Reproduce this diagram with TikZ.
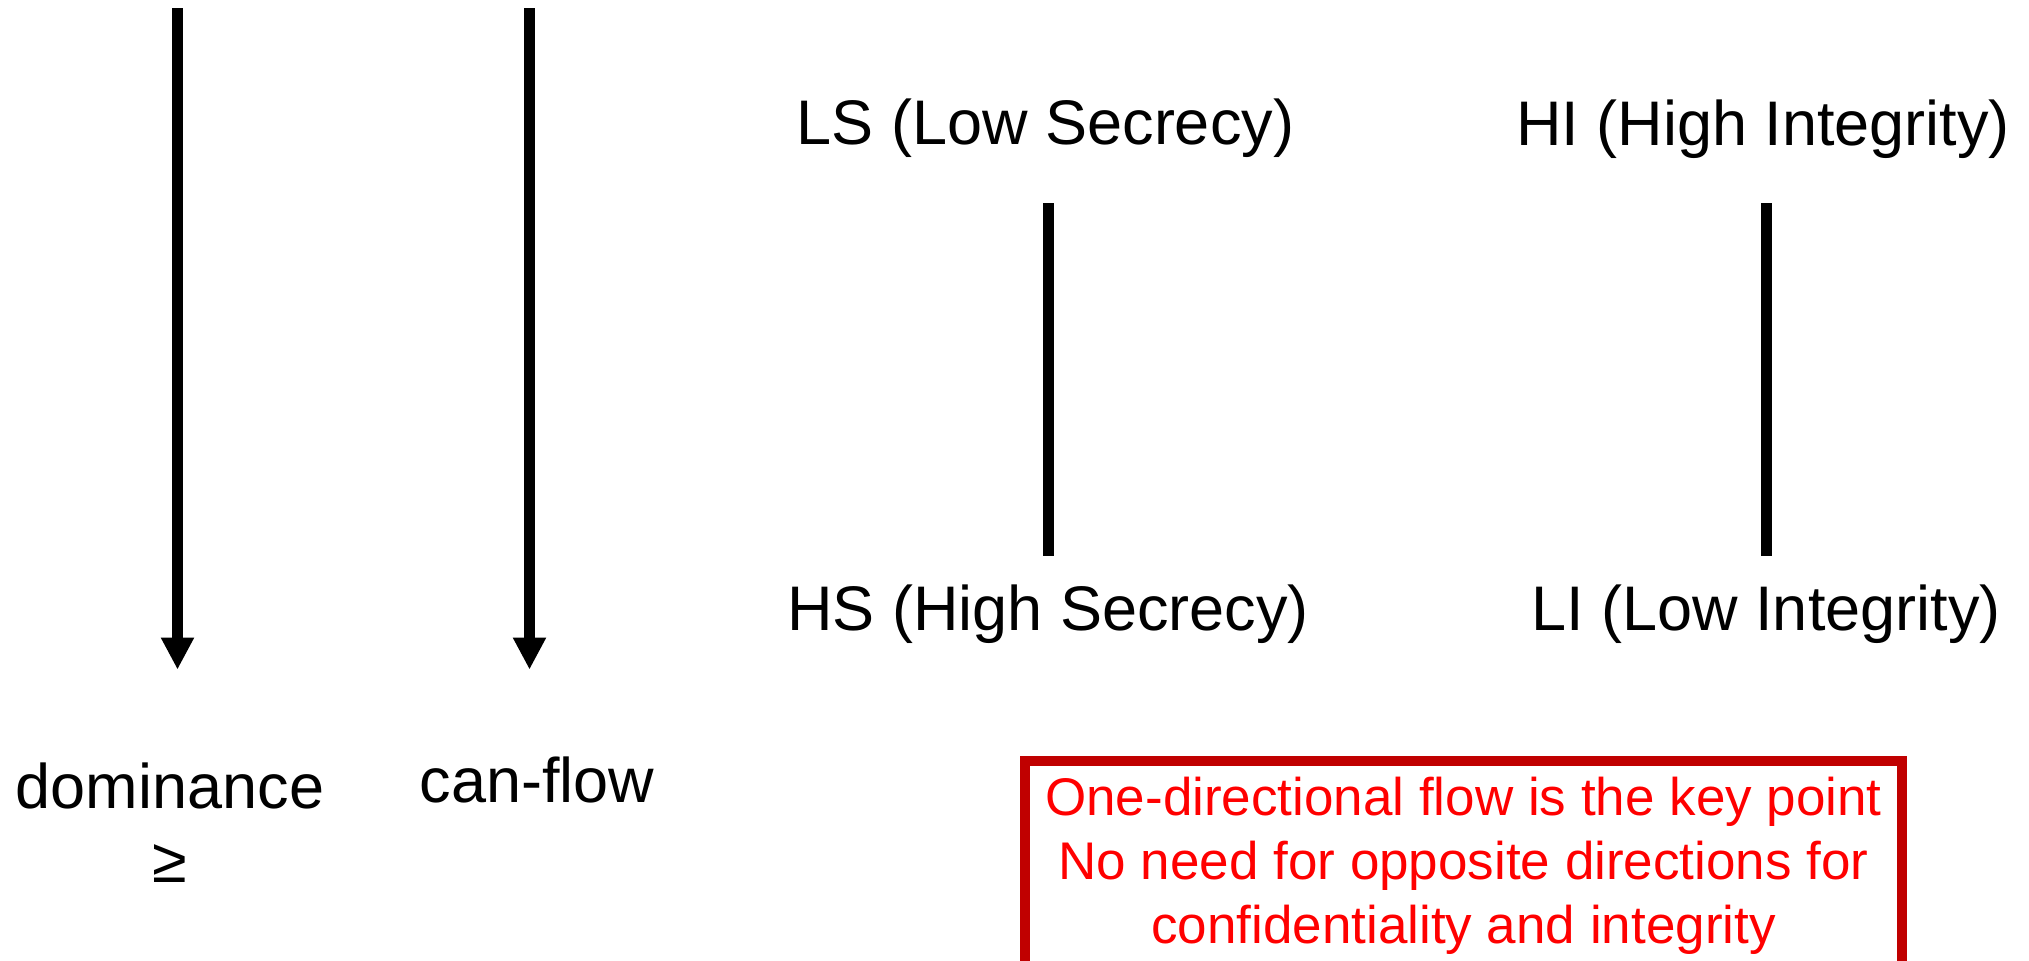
\documentclass[tikz,border=0pt]{standalone}
\usepackage{fontspec}
\setmainfont{Liberation Sans}
\usetikzlibrary{arrows.meta}
\definecolor{noteframe}{HTML}{C00000}
\definecolor{notetext}{HTML}{FF0000}
\begin{document}
\begin{tikzpicture}[x=0.5pt,y=-0.5pt,
  lbl/.style={inner sep=0pt, anchor=base,
    font=\fontsize{31.5pt}{36pt}\selectfont,
    text height=23.6pt, text depth=7.9pt},
  order/.style={line width=5.5pt, -{Triangle[length=16pt,width=15.5pt]}},
  rel/.style={line width=5.5pt},
  note/.style={draw=noteframe, line width=5.25pt, text=notetext,
    align=center, inner sep=0pt,
    font=\fontsize{26.5pt}{32pt}\selectfont,
    minimum width=438.5pt, minimum height=104.75pt, anchor=north}]
\useasboundingbox (0,0) rectangle (2029,960);

% legend: ordering arrows
\node[lbl] (dom) at (170,808) {dominance};
\node[lbl] (geq) at (170,882) {≥};
\node[lbl] (flow) at (537,802) {can-flow};
\coordinate (domtop) at (177.5,8);
\coordinate (flowtop) at (529.5,8);
\draw[order, shorten >=45.4pt] (domtop) -- (domtop |- dom.north);
\draw[order, shorten >=42.4pt] (flowtop) -- (flowtop |- flow.north);

% secrecy lattice
\node[lbl] (ls) at (1045.5,144) {LS (Low Secrecy)};
\node[lbl] (hs) at (1048,630) {HS (High Secrecy)};
\draw[rel, shorten <=21.6pt, shorten >=13.4pt] (hs.north |- ls.south) -- (hs.north);

% integrity lattice
\node[lbl] (hi) at (1763,145) {HI (High Integrity)};
\node[lbl] (li) at (1766,630) {LI (Low Integrity)};
\draw[rel, shorten <=21.1pt, shorten >=13.4pt] (li.north |- hi.south) -- (li.north);

% remark
\node[note] (note) at (1463.5,755.5) {One-directional flow is the key point\\No need for opposite directions for\\confidentiality and integrity};
\end{tikzpicture}
\end{document}
